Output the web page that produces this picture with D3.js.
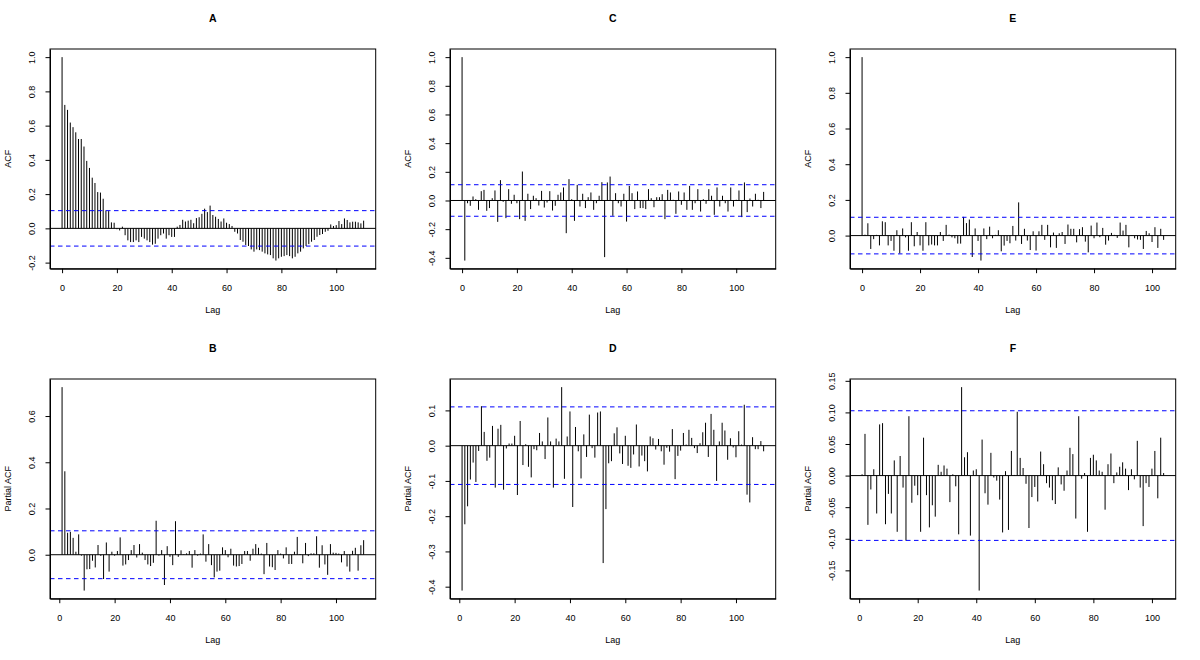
<!DOCTYPE html>
<html><head><meta charset="utf-8">
<script src="https://cdn.jsdelivr.net/npm/d3@7"></script>
<style>
body{margin:0;background:#fff}
svg text{font-family:"Liberation Sans",Arial,Helvetica,sans-serif;fill:#000}
</style>
</head><body>
<svg id="chart" width="1200" height="660"></svg>
<script>
// ---- data ----
// A: ACF, lags 0..110
const acfA = [
 1, 0.721, 0.692, 0.618, 0.591, 0.561, 0.522, 0.522, 0.478, 0.394,
 0.353, 0.296, 0.265, 0.212, 0.209, 0.173, 0.105, 0.101, 0.035, 0.033,
 -0.005, -0.012, 0.01, -0.04, -0.07, -0.08, -0.08, -0.07, -0.08, -0.05,
 -0.06, -0.07, -0.08, -0.095, -0.09, -0.06, -0.04, -0.03, -0.06, -0.04,
 -0.05, -0.05, 0.01, 0.02, 0.05, 0.04, 0.045, 0.05, 0.03, 0.06,
 0.065, 0.085, 0.115, 0.095, 0.133, 0.078, 0.068, 0.055, 0.04, 0.058,
 0.033, 0.025, 0.014, -0.02, -0.03, -0.068, -0.078, -0.097, -0.103, -0.123,
 -0.136, -0.123, -0.127, -0.136, -0.146, -0.152, -0.156, -0.175, -0.188, -0.175,
 -0.166, -0.162, -0.156, -0.162, -0.175, -0.166, -0.146, -0.136, -0.117, -0.103,
 -0.092, -0.078, -0.068, -0.049, -0.039, -0.033, -0.02, -0.014, 0.023, 0.014,
 0.019, 0.043, 0.025, 0.058, 0.049, 0.035, 0.039, 0.039, 0.035, 0.029, 0.045
];
// B: PACF, lags 1..110
const pacfB = [
 0.725, 0.361, 0.095, 0.099, 0.073, 0.013, 0.088, -0.004, -0.155, -0.063,
 -0.062, -0.026, -0.055, 0.042, -0.005, -0.105, 0.053, -0.073, 0.013, -0.004,
 0.016, 0.075, -0.047, -0.042, -0.023, 0.02, 0.042, -0.012, 0.046, 0.009,
 -0.023, -0.042, -0.049, -0.035, 0.147, -0.004, 0.02, -0.131, 0.037, -0.009,
 -0.045, 0.145, -0.009, 0.019, 0.002, 0.006, 0.016, -0.056, 0.02, -0.004,
 0.005, 0.088, -0.03, 0.046, -0.045, -0.098, -0.073, -0.069, 0.032, 0.02,
 -0.011, 0.026, -0.047, -0.051, -0.049, -0.04, 0.016, 0.016, -0.026, 0.026,
 0.046, 0.03, 0.005, -0.084, 0.051, -0.051, -0.054, -0.066, 0.02, 0.005,
 -0.016, 0.032, -0.04, -0.04, 0.013, 0.077, 0.003, -0.037, 0.051, -0.006,
 0.006, 0.006, 0.08, -0.056, 0.041, -0.042, -0.087, 0.046, 0.009, 0.008,
 0.005, -0.033, 0.016, -0.051, -0.073, 0.017, 0.03, -0.069, 0.041, 0.063
];
// C: ACF, lags 0..110
const acfC = [
 1, -0.419, -0.019, -0.037, 0.028, 0.009, -0.065, 0.065, 0.074, -0.072,
 -0.053, 0.016, 0.07, -0.149, 0.142, -0.009, -0.123, 0.079, -0.023, 0.04,
 -0.019, -0.13, 0.202, -0.142, 0.047, -0.06, 0.033, 0.016, -0.035, 0.067,
 -0.049, -0.014, 0.065, -0.07, -0.037, 0.04, 0.056, 0.091, -0.228, 0.149,
 0.009, -0.142, 0.109, -0.042, 0.047, -0.053, 0.023, 0.056, -0.065, -0.019,
 0.033, 0.128, -0.395, 0.126, 0.167, -0.107, 0.051, -0.019, -0.042, 0.047,
 -0.147, 0.102, 0.051, -0.06, 0.063, -0.053, -0.053, -0.06, 0.079, 0.016,
 -0.047, 0.023, 0.023, 0.044, -0.13, 0.074, 0.056, 0.005, -0.093, 0.063,
 -0.03, 0.056, -0.065, 0.102, -0.065, -0.019, 0.079, -0.077, 0.009, -0.023,
 0.079, 0.033, -0.1, 0.091, -0.042, 0.033, -0.019, -0.077, 0.091, -0.042,
 0.005, 0.07, -0.116, 0.126, -0.081, 0.014, -0.042, 0.047, 0.005, -0.053, 0.06
];
// D: PACF, lags 1..110
const pacfD = [
 -0.411, -0.223, -0.172, -0.096, -0.048, -0.103, -0.015, 0.112, 0.039, -0.043,
 -0.034, 0.056, -0.119, 0.048, 0.059, -0.125, -0.008, 0.006, 0.006, 0.028,
 -0.14, 0.07, -0.055, 0.004, -0.06, -0.09, -0.01, -0.013, 0.036, 0.012,
 -0.038, 0.08, 0.012, -0.119, 0.02, 0.012, 0.166, -0.094, 0.026, 0.097,
 -0.174, 0.053, -0.016, -0.093, 0.032, -0.032, 0.088, -0.007, -0.034, 0.094,
 0.097, -0.333, -0.18, -0.05, -0.044, 0.035, 0.052, -0.022, -0.052, 0.028,
 -0.057, -0.063, -0.025, 0.06, -0.059, -0.028, -0.044, -0.073, 0.026, 0.021,
 -0.011, 0.019, -0.016, -0.054, -0.006, -0.017, 0.047, -0.095, -0.029, -0.014,
 0.036, 0.003, 0.045, 0.022, -0.007, -0.021, 0.007, 0.038, 0.065, -0.032,
 0.09, 0.045, -0.1, 0.012, 0.065, 0.043, -0.04, 0.021, -0.005, -0.033,
 0.041, 0.003, 0.116, -0.139, -0.161, 0.024, -0.01, -0.01, 0.013, -0.016
];
// E: ACF, lags 0..104
const acfE = [
 1, 0.005, 0.069, -0.075, -0.02, 0.004, -0.055, 0.08, 0.075, -0.055,
 -0.03, -0.085, 0.03, -0.1, 0.04, -0.01, -0.085, 0.075, -0.06, 0.02,
 -0.055, -0.085, 0.075, -0.055, -0.05, -0.055, -0.055, 0.02, -0.03, 0.06,
 0.005, -0.01, -0.015, -0.045, -0.045, 0.105, 0.07, 0.09, -0.12, 0.04,
 -0.03, -0.14, 0.04, -0.02, 0.05, -0.015, 0.004, 0.03, -0.088, -0.056,
 -0.03, -0.043, 0.054, -0.028, 0.186, -0.047, 0.038, -0.028, -0.081, 0.024,
 -0.084, 0.024, 0.06, -0.024, 0.06, -0.066, 0.017, -0.069, 0.013, 0.02,
 -0.047, 0.062, 0.038, 0.038, -0.038, 0.036, 0.047, -0.034, -0.094, 0.056,
 -0.015, 0.073, -0.009, 0.043, -0.051, -0.028, 0.015, 0.004, -0.013, 0.073,
 0.028, 0.06, -0.066, 0.003, -0.015, -0.022, -0.024, -0.075, 0.026, 0.013,
 -0.036, 0.047, -0.069, 0.038, -0.024
];
// F: PACF, lags 1..104
const pacfF = [
 0.002, 0.066, -0.078, -0.022, 0.01, -0.06, 0.081, 0.083, -0.077, -0.029,
 -0.06, 0.024, -0.089, 0.031, -0.019, -0.103, 0.094, -0.043, -0.016, -0.031,
 -0.089, 0.06, -0.031, -0.082, -0.047, -0.065, 0.017, 0.006, 0.016, 0.011,
 -0.042, 0.002, -0.017, -0.093, 0.14, 0.029, 0.037, -0.095, 0.008, 0.01,
 -0.182, 0.057, -0.028, -0.046, 0.036, -0.003, -0.008, -0.038, -0.09, 0.007,
 -0.086, 0.039, 0.001, 0.101, 0.028, 0.012, -0.013, -0.083, -0.034, -0.018,
 -0.041, 0.038, 0.018, -0.012, -0.019, -0.039, -0.045, 0.013, -0.014, -0.024,
 0.008, 0.044, 0.034, -0.068, 0.094, -0.005, 0.004, -0.089, 0.028, 0.033,
 0.024, 0.008, 0.006, -0.054, 0.018, 0.035, -0.012, 0.005, 0.014, 0.021,
 0.011, -0.023, 0.01, -0.006, 0.055, -0.019, -0.08, -0.012, -0.018, 0.011,
 0.039, -0.036, 0.06, 0.004
];
// confidence bounds (±)
const ciAB = 0.1035, ciCD = 0.110, ciEF = 0.1026;
// tick labels
const xTicks = [0, 20, 40, 60, 80, 100];
const yTicksA = [-0.2, 0, 0.2, 0.4, 0.6, 0.8, 1.0];
const yTicksB = [0, 0.2, 0.4, 0.6];
const yTicksC = [-0.4, -0.2, 0, 0.2, 0.4, 0.6, 0.8, 1.0];
const yTicksD = [-0.4, -0.3, -0.2, -0.1, 0, 0.1];
const yTicksE = [0, 0.2, 0.4, 0.6, 0.8, 1.0];
const yTicksF = [-0.15, -0.10, -0.05, 0, 0.05, 0.10, 0.15];
const titles = ["A", "B", "C", "D", "E", "F"];

// ---- layout ----
const svg = d3.select("#chart");
const colLeft = [50, 450, 850];
const rowTop = [49, 379];
const boxW = 325.7, boxH = 219.7;
const FS = 9;

const panels = [
  {t: titles[0], data: acfA, start: 0, ci: ciAB, ylab: "ACF", col: 0, row: 0, yt: yTicksA, dec: 1},
  {t: titles[1], data: pacfB, start: 1, ci: ciAB, ylab: "Partial ACF", col: 0, row: 1, yt: yTicksB, dec: 1},
  {t: titles[2], data: acfC, start: 0, ci: ciCD, ylab: "ACF", col: 1, row: 0, yt: yTicksC, dec: 1},
  {t: titles[3], data: pacfD, start: 1, ci: ciCD, ylab: "Partial ACF", col: 1, row: 1, yt: yTicksD, dec: 1},
  {t: titles[4], data: acfE, start: 0, ci: ciEF, ylab: "ACF", col: 2, row: 0, yt: yTicksE, dec: 1},
  {t: titles[5], data: pacfF, start: 1, ci: ciEF, ylab: "Partial ACF", col: 2, row: 1, yt: yTicksF, dec: 2}
];

function fmt(dec) {
  return d => (d < 0 ? "-" : "") + Math.abs(d).toFixed(dec);
}

panels.forEach(p => {
  const left = colLeft[p.col], top = rowTop[p.row];
  const right = left + boxW, bottom = top + boxH;
  const pts = p.data.map((v, i) => ({lag: i + p.start, v}));
  const lmin = p.start, lmax = pts[pts.length - 1].lag;
  const ex = (lmax - lmin) * 0.04;
  const x = d3.scaleLinear().domain([lmin - ex, lmax + ex]).range([left, right]);
  const lo = Math.min(d3.min(p.data), -p.ci), hi = Math.max(d3.max(p.data), p.ci);
  const ey = (hi - lo) * 0.04;
  const y = d3.scaleLinear().domain([lo - ey, hi + ey]).range([bottom, top]);

  const g = svg.append("g");

  // bars
  g.append("g").selectAll("line").data(pts).join("line")
    .attr("x1", d => x(d.lag)).attr("x2", d => x(d.lag))
    .attr("y1", y(0)).attr("y2", d => y(d.v))
    .attr("stroke", "#000").attr("stroke-width", 1);

  // zero line
  g.append("line").attr("x1", left).attr("x2", right)
    .attr("y1", y(0)).attr("y2", y(0))
    .attr("stroke", "#000").attr("stroke-width", 1);

  // confidence lines
  [p.ci, -p.ci].forEach(c => {
    g.append("line").attr("x1", left).attr("x2", right)
      .attr("y1", y(c)).attr("y2", y(c))
      .attr("stroke", "#0000ff").attr("stroke-width", 1)
      .attr("stroke-dasharray", "4.5,3.5");
  });

  // x axis
  const xa = d3.axisBottom(x).tickValues(xTicks).tickSize(4.5).tickSizeOuter(0)
    .tickPadding(11.5).tickFormat(d3.format("d"));
  const xg = g.append("g").attr("transform", `translate(0,${bottom})`).call(xa);
  xg.attr("font-size", FS).attr("font-family", null);
  xg.selectAll("path,line").attr("stroke", "#000");

  // y axis (labels rotated, R style)
  const ya = d3.axisLeft(y).tickValues(p.yt).tickSize(4.5).tickSizeOuter(0).tickFormat(fmt(p.dec));
  const yg = g.append("g").attr("transform", `translate(${left},0)`).call(ya);
  yg.attr("font-size", FS).attr("font-family", null);
  yg.selectAll("path,line").attr("stroke", "#000");
  yg.selectAll("text").attr("x", 0).attr("y", -15.3).attr("dy", null)
    .attr("text-anchor", "middle").attr("transform", "rotate(-90)");

  // box
  g.append("rect").attr("x", left).attr("y", top).attr("width", boxW).attr("height", boxH)
    .attr("fill", "none").attr("stroke", "#000").attr("stroke-width", 1);

  // axis titles
  g.append("text").attr("x", (left + right) / 2).attr("y", bottom + 44.7)
    .attr("text-anchor", "middle").attr("font-size", FS).text("Lag");
  g.append("text").attr("transform", `translate(${left - 38.8},${(top + bottom) / 2}) rotate(-90)`)
    .attr("text-anchor", "middle").attr("font-size", FS).text(p.ylab);

  // panel title
  g.append("text").attr("x", (left + right) / 2).attr("y", top - 27.3)
    .attr("text-anchor", "middle").attr("font-size", 10.5).attr("font-weight", "bold").text(p.t);
});
</script>
</body></html>
